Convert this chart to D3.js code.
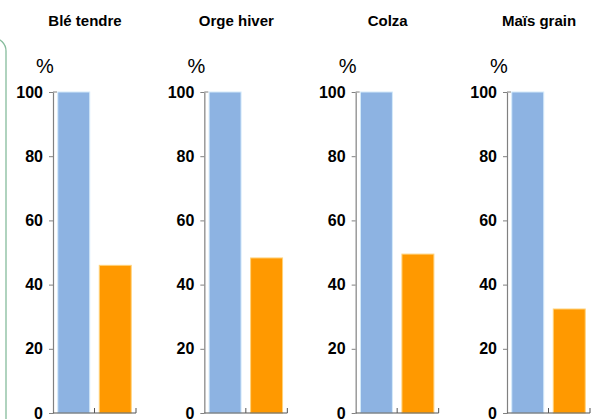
<!DOCTYPE html>
<html>
<head>
<meta charset="utf-8">
<script src="https://cdn.jsdelivr.net/npm/d3@7/dist/d3.min.js"></script>
<style>
  html, body { margin: 0; padding: 0; background: #fff; }
  svg { display: block; font-family: "Liberation Sans", Arial, sans-serif; }
</style>
</head>
<body>
<svg id="chart" width="597" height="419"></svg>
<script>
// ---- data ----
const crops = ["Blé tendre", "Orge hiver", "Colza", "Maïs grain"];
const seriesKeys = ["ref", "val"];
const refValues = [100, 100, 100, 100];
const valValues = [46, 48.3, 49.5, 32.4];
const yTicks = [0, 20, 40, 60, 80, 100];
const unitLabel = "%";

const svg = d3.select("#chart");

// left decorative green rounded frame
svg.append("rect")
  .attr("x", -120).attr("y", 38)
  .attr("width", 126).attr("height", 600)
  .attr("rx", 13).attr("ry", 13)
  .attr("fill", "none").attr("stroke", "#86bc9c").attr("stroke-width", 1.3);

const panelX = d3.scalePoint().domain(crops).range([53, 507]);
const y = d3.scaleLinear().domain([0, 100]).range([413, 92]);
const panelW = 83;
const x = d3.scaleBand().domain(seriesKeys).range([0, panelW])
  .paddingInner(0.23).paddingOuter(0.115);
const colors = { ref: "#8db3e2", val: "#ff9900" };
const edge = { ref: "#d4eafa", val: "#ffd27a" };

crops.forEach((crop, i) => {
  const g = svg.append("g").attr("transform", `translate(${panelX(crop)},0)`);

  // title
  g.append("text")
    .attr("x", 32).attr("y", 26)
    .attr("text-anchor", "middle")
    .attr("font-weight", "bold").attr("font-size", 15)
    .attr("fill", "#000")
    .text(crop);

  // unit label
  g.append("text")
    .attr("x", -8).attr("y", 73)
    .attr("text-anchor", "middle")
    .attr("font-size", 20)
    .attr("fill", "#000")
    .text(unitLabel);

  // bars
  const vals = { ref: refValues[i], val: valValues[i] };
  g.selectAll("rect.bar")
    .data(seriesKeys)
    .join("rect")
    .attr("class", "bar")
    .attr("x", d => x(d))
    .attr("y", d => y(vals[d]))
    .attr("width", x.bandwidth())
    .attr("height", d => y(0) - y(vals[d]))
    .attr("fill", d => colors[d])
    .attr("stroke", d => edge[d])
    .attr("stroke-width", 1);

  // y axis
  const ya = g.append("g")
    .call(d3.axisLeft(y).tickValues(yTicks).tickSize(4).tickSizeOuter(0).tickPadding(6));
  ya.select(".domain").attr("stroke", "#808080").attr("stroke-width", 1.2);
  ya.selectAll(".tick line").attr("stroke", "#808080");
  ya.selectAll(".tick text")
    .attr("font-size", 16).attr("font-weight", "bold")
    .attr("font-family", "Liberation Sans, Arial, sans-serif")
    .attr("fill", "#000");
  // small inward tick at the top
  g.append("line")
    .attr("x1", 0).attr("x2", 4)
    .attr("y1", y(100)).attr("y2", y(100))
    .attr("stroke", "#808080");

  // x axis baseline with inward category separators
  const xa = g.append("g").attr("transform", `translate(0,${y(0)})`);
  xa.append("line")
    .attr("x1", 0).attr("x2", panelW)
    .attr("stroke", "#555").attr("stroke-width", 1.2);
  const seps = [panelW / 2, panelW];
  xa.selectAll("line.sep")
    .data(seps)
    .join("line")
    .attr("class", "sep")
    .attr("x1", d => d).attr("x2", d => d)
    .attr("y1", 0).attr("y2", -5)
    .attr("stroke", "#555");
});
</script>
</body>
</html>
